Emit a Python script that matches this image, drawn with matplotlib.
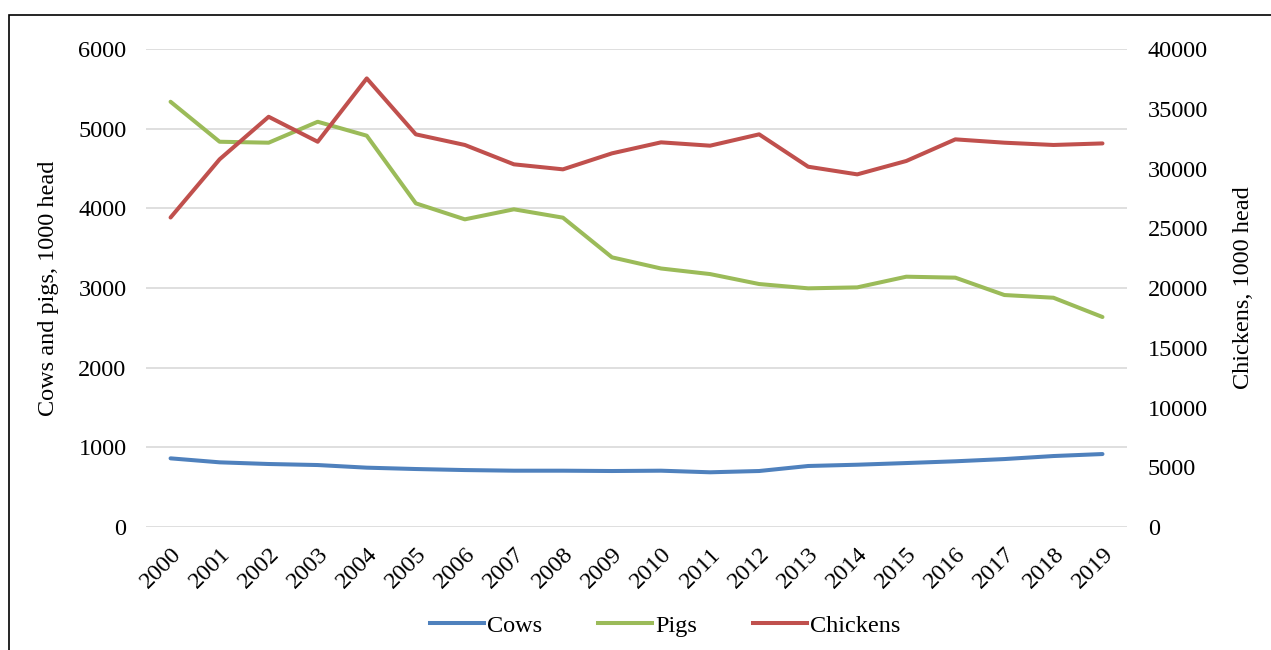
import numpy as np
import matplotlib.pyplot as plt
from matplotlib.patches import Rectangle
from matplotlib.lines import Line2D

plt.rcParams['font.family'] = ['Liberation Serif', 'DejaVu Serif']

years = [str(y) for y in range(2000, 2020)]

# livestock numbers, 1000 head
cows = [862, 812, 791, 778, 745, 728, 715, 707, 707, 703,
        707, 687, 703, 766, 782, 803, 825, 853, 891, 916]
pigs = [5338, 4836, 4824, 5087, 4912, 4063, 3862, 3988, 3883, 3385,
        3245, 3175, 3050, 2996, 3008, 3142, 3130, 2912, 2878, 2636]
chickens = [25900, 30770, 34330, 32240, 37540, 32860, 31970, 30350, 29930, 31270,
            32190, 31910, 32860, 30150, 29510, 30630, 32440, 32160, 31970, 32100]

c_cows = '#4F81BD'
c_pigs = '#9BBB59'
c_chick = '#C0504D'
fs = 17.5

fig = plt.figure(figsize=(12.71, 6.5), dpi=100)
ax = fig.add_axes([0.1149, 0.1892, 0.7718, 0.7354])
ax2 = ax.twinx()

x = np.arange(len(years))
ax.plot(x, cows, color=c_cows, lw=2.9, solid_capstyle='round', zorder=3)
ax.plot(x, pigs, color=c_pigs, lw=2.9, solid_capstyle='round', zorder=3)
ax2.plot(x, chickens, color=c_chick, lw=2.9, solid_capstyle='round', zorder=3)

ax.set_xlim(-0.5, len(years) - 0.5)
ax.set_ylim(0, 6000)
ax2.set_ylim(0, 40000)
ax.set_yticks(range(0, 6001, 1000))
ax2.set_yticks(range(0, 40001, 5000))
ax.yaxis.grid(True, color='#D9D9D9', lw=1.2)
ax.set_axisbelow(True)

for a in (ax, ax2):
    for s in a.spines.values():
        s.set_visible(False)
    a.tick_params(length=0, labelsize=fs)
ax.tick_params(axis='y', pad=14)
ax2.tick_params(axis='y', pad=15)

ax.set_xticks(x)
ax.set_xticklabels(years, rotation=45, ha='right', rotation_mode='anchor', fontsize=17.5)
ax.tick_params(axis='x', pad=12)

ax.set_ylabel('Cows and pigs, 1000 head', fontsize=fs, labelpad=14)
ax2.set_ylabel('Chickens, 1000 head', fontsize=fs, labelpad=18)

handles = [Line2D([], [], color=c, lw=2.9) for c in (c_cows, c_pigs, c_chick)]
fig.legend(handles, ['Cows', 'Pigs', 'Chickens'], loc='center',
           bbox_to_anchor=(0.5236, 0.037), ncol=3, frameon=False, fontsize=fs,
           handlelength=2.2, handletextpad=0.15, columnspacing=2.3)

# outer frame of the figure
fig.patches.append(Rectangle((8.5 / 1271, -0.5), 1.5, 0.5 + (1 - 14.5 / 650),
                             transform=fig.transFigure, fill=False,
                             edgecolor='black', lw=1.2))

fig.savefig('out.png', dpi=100)
